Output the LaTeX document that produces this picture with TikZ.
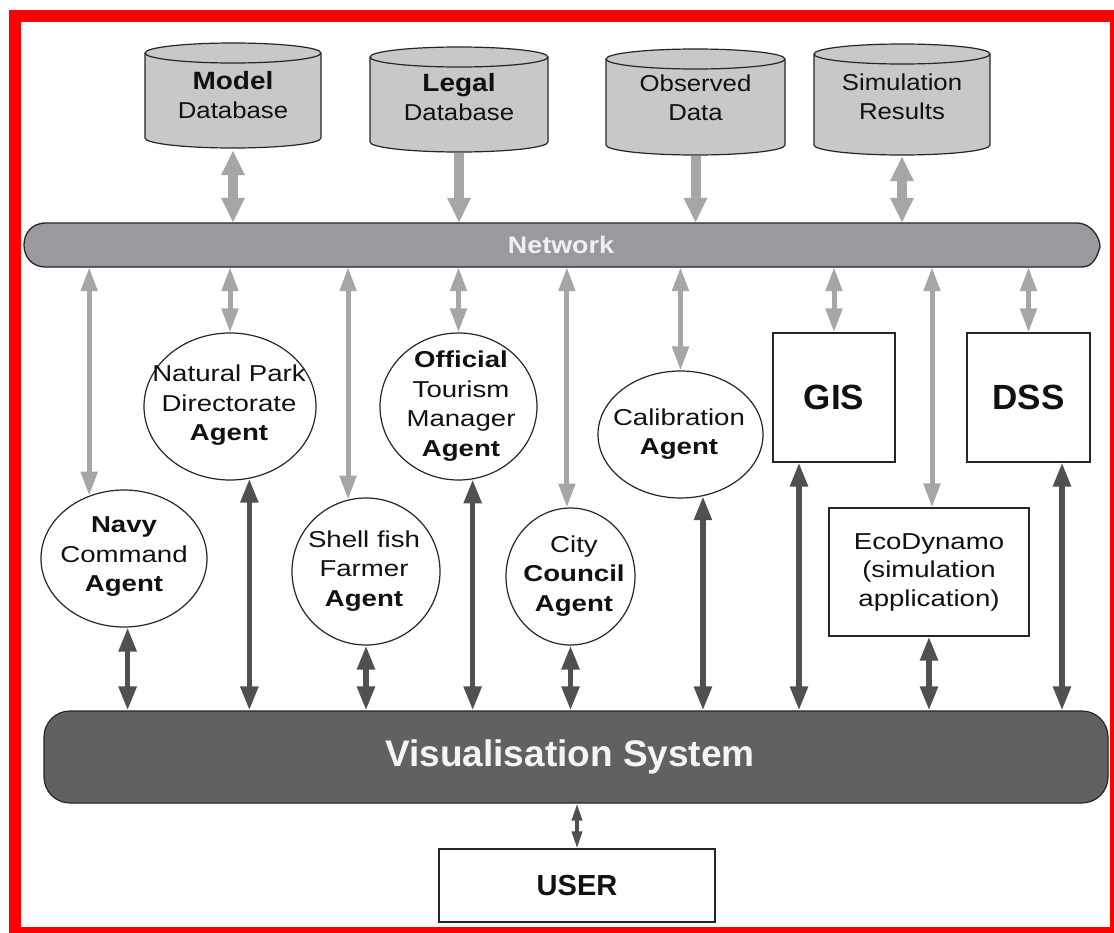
\documentclass[tikz,border=0pt]{standalone}
\usepackage{fontspec}
\setmainfont{Liberation Sans}
\newfontfamily\agentfont[FakeStretch=1.2]{Liberation Sans}
\newfontfamily\dbfont[FakeStretch=1.12]{Liberation Sans}
\usetikzlibrary{arrows.meta,shapes.geometric}

\definecolor{dbgray}{RGB}{200,200,200}
\definecolor{netgray}{RGB}{154,153,158}
\definecolor{visgray}{RGB}{97,97,97}
\definecolor{lightarrow}{RGB}{166,166,166}
\definecolor{darkarrow}{RGB}{80,80,80}
\definecolor{framered}{RGB}{255,0,0}
\definecolor{inktext}{RGB}{17,17,17}

\tikzset{
  dbtip/.tip={Triangle[width=22pt,length=25pt]},
  nettip/.tip={Triangle[width=16pt,length=24pt]},
  vistip/.tip={Triangle[width=17pt,length=24pt]},
  usertip/.tip={Triangle[width=10pt,length=17pt]},
  outline/.style={draw=black!85, line width=1.2pt},
  agent/.style={ellipse, outline, fill=white, inner sep=0pt},
  agenttext/.style={align=center, inner sep=0pt, text=inktext,
    font=\agentfont\fontsize{23}{29.5}\selectfont},
  dbtext/.style={align=center, inner sep=0pt, text=inktext,
    font=\dbfont\fontsize{23}{29}\selectfont},
  dbbody/.style={fill=dbgray, outline},
  box/.style={rectangle, outline, fill=white, inner sep=0pt, text=inktext},
  dbdouble/.style={draw=lightarrow, line width=10pt, dbtip-dbtip},
  dbsingle/.style={draw=lightarrow, line width=10pt, -dbtip},
  netlink/.style={draw=lightarrow, line width=5pt, nettip-nettip},
  vislink/.style={draw=darkarrow, line width=5.5pt, vistip-vistip},
  userlink/.style={draw=darkarrow, line width=3.5pt, usertip-usertip},
}

% cylinder: left x, right x, top-ellipse centre y, bottom-ellipse centre y, radii
\newcommand\dbcylinder[6]{%
  \path[dbbody] (#1,#3) -- (#1,#4)
     arc[start angle=180,end angle=360,x radius=#5pt,y radius=#6pt]
     -- (#2,#3)
     arc[start angle=0,end angle=180,x radius=#5pt,y radius=#6pt] -- cycle;
  \draw[outline] (#1,#3) arc[start angle=180,end angle=360,x radius=#5pt,y radius=#6pt];
}

\begin{document}
\begin{tikzpicture}[x=1pt,y=1pt]
\useasboundingbox (0,0) rectangle (1114,-932);
\begin{scope}
\clip (0,0) rectangle (1114,-932);
\fill[white] (0,0) rectangle (1114,-932);
\draw[framered, line width=12pt] (15,-16) rectangle (1116,-933);

% databases
\dbcylinder{145}{321}{-53}{-138}{88}{10}
\dbcylinder{370}{548}{-57}{-142}{89}{10}
\dbcylinder{606}{785}{-59}{-145}{89.5}{10}
\dbcylinder{814}{990}{-54}{-145}{88}{10}
\node[dbtext, minimum width=176pt, minimum height=110pt] (model) at (233,-95)
  {{\fontsize{25}{29}\selectfont\bfseries Model}\\Database};
\node[dbtext, minimum width=178pt, minimum height=111pt] (legal) at (459,-97.5)
  {{\fontsize{25}{29}\selectfont\bfseries Legal}\\Database};
\node[dbtext, minimum width=179pt, minimum height=116pt] (obs) at (695.5,-98)
  {Observed\\Data};
\node[dbtext, minimum width=176pt, minimum height=118pt] (sim) at (902,-97)
  {Simulation\\Results};

% network bar
\path[fill=netgray, draw=black!85, line width=1.3pt]
  (46,-223) -- (1077,-223)
  .. controls (1090,-223) and (1100,-236) .. (1100,-247)
  .. controls (1097,-257) and (1093,-267) .. (1082,-267)
  -- (46,-267)
  .. controls (31,-267) and (24,-256) .. (24,-245)
  .. controls (24,-234) and (31,-223) .. (46,-223) -- cycle;
\node[inner sep=0pt, minimum width=1076pt, minimum height=44pt,
  text={rgb,255:red,240;green,240;blue,240},
  font=\dbfont\bfseries\fontsize{24}{28}\selectfont] (net) at (561,-245) {Network};

% agents
\node[agent, minimum width=166pt, minimum height=137pt] (navy) at (124,-558.5) {};
\node[agenttext] (navyT) at (124,-557) {\textbf{Navy}\\Command\\\textbf{Agent}};
\node[agent, minimum width=172pt, minimum height=147pt] (park) at (230,-406.5) {};
\node[agenttext] (parkT) at (229,-405.5) {Natural Park\\Directorate\\\textbf{Agent}};
\node[agent, minimum width=148pt, minimum height=147pt] (shell) at (366,-571.5) {};
\node[agenttext] (shellT) at (364,-571) {Shell fish\\Farmer\\\textbf{Agent}};
\node[agent, minimum width=157pt, minimum height=147pt] (tour) at (458.5,-406.5) {};
\node[agenttext] (tourT) at (461,-406) {\textbf{Official}\\Tourism\\Manager\\\textbf{Agent}};
\node[agent, minimum width=129pt, minimum height=137pt] (city) at (570.5,-576.5) {};
\node[agenttext] (cityT) at (574,-576) {City\\\textbf{Council}\\\textbf{Agent}};
\node[agent, minimum width=165pt, minimum height=127pt] (calib) at (680.5,-434.5) {};
\node[agenttext] (calibT) at (679,-434) {Calibration\\\textbf{Agent}};

% applications
\node[box, minimum width=122pt, minimum height=129pt,
  font=\bfseries\fontsize{35}{40}\selectfont] (gis) at (834,-397.5) {GIS};
\node[box, minimum width=123pt, minimum height=129pt,
  font=\bfseries\fontsize{35}{40}\selectfont] (dss) at (1028.5,-397.5) {DSS};
\node[box, minimum width=200pt, minimum height=128pt, align=center,
  font=\agentfont\fontsize{23}{28.5}\selectfont] (eco) at (929,-572)
  {EcoDynamo\\(simulation\\application)};

% visualisation and user
\node[rounded corners=26pt, fill=visgray, draw=black!85, line width=1.2pt,
  minimum width=1064pt, minimum height=92pt, inner sep=0pt,
  text={rgb,255:red,245;green,245;blue,245},
  font=\bfseries\fontsize{37}{42}\selectfont] (vis) at (576,-757) {\hspace*{-12pt}Visualisation System};
\node[box, minimum width=276pt, minimum height=73pt,
  font=\bfseries\fontsize{29}{34}\selectfont] (user) at (577,-885.5) {USER};

% database links
\draw[dbdouble] (model.south) -- (model.south |- net.north);
\draw[dbsingle] (legal.south) -- (legal.south |- net.north);
\draw[dbsingle] (obs.south) -- (obs.south |- net.north);
\draw[dbdouble] (sim.south) -- (sim.south |- net.north);

% network links
\coordinate (ecoT) at ([xshift=3pt]eco.north);
\draw[netlink] (navy.119 |- net.south) -- (navy.119);
\draw[netlink] (park.north |- net.south) -- (park.north);
\draw[netlink] (shell.104 |- net.south) -- (shell.104);
\draw[netlink] (tour.north |- net.south) -- (tour.north);
\draw[netlink] (city.93 |- net.south) -- (city.93);
\draw[netlink] (calib.north |- net.south) -- (calib.north);
\draw[netlink] (gis.north |- net.south) -- (gis.north);
\draw[netlink] (ecoT |- net.south) -- (ecoT);
\draw[netlink] (dss.north |- net.south) -- (dss.north);

% visualisation links
\coordinate (gisB) at ([xshift=-35pt]gis.south);
\coordinate (dssB) at ([xshift=33.5pt]dss.south);
\draw[vislink] (navy.-87) -- (navy.-87 |- vis.north);
\draw[vislink] (park.-75) -- (park.-75 |- vis.north);
\draw[vislink] (shell.south) -- (shell.south |- vis.north);
\draw[vislink] (tour.-79) -- (tour.-79 |- vis.north);
\draw[vislink] (city.south) -- (city.south |- vis.north);
\draw[vislink] (calib.-70) -- (calib.-70 |- vis.north);
\draw[vislink] (gisB) -- (gisB |- vis.north);
\draw[vislink] (eco.south) -- (eco.south |- vis.north);
\draw[vislink] (dssB) -- (dssB |- vis.north);
\draw[userlink] (vis.south -| user.north) -- (user.north);
\end{scope}
\end{tikzpicture}
\end{document}
